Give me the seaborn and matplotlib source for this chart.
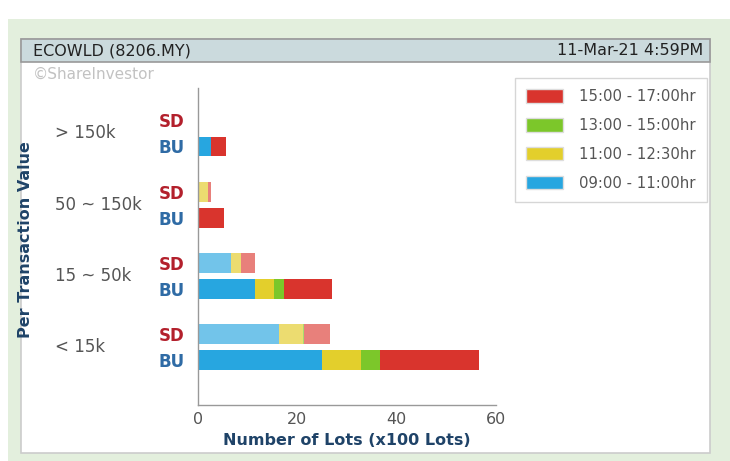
import numpy as np
import pandas as pd
import matplotlib
matplotlib.use("Agg")
import matplotlib.pyplot as plt
from matplotlib.patches import Rectangle, Patch
import seaborn as sns

# value bands, top to bottom
groups = ["> 150k", "50 ~ 150k", "15 ~ 50k", "< 15k"]
periods = ["09:00 - 11:00hr", "11:00 - 12:30hr", "13:00 - 15:00hr", "15:00 - 17:00hr"]

# lots (x100) bought up / sold down per time band
bu_0900 = [2.6, 0.0, 11.5, 25.0]
bu_1100 = [0.0, 0.0, 3.9, 7.8]
bu_1300 = [0.0, 0.0, 1.9, 3.8]
bu_1500 = [3.1, 5.3, 9.6, 19.9]
sd_0900 = [0.0, 0.0, 6.6, 16.3]
sd_1100 = [0.0, 2.0, 2.0, 4.8]
sd_1300 = [0.0, 0.0, 0.0, 0.3]
sd_1500 = [0.0, 0.6, 2.9, 5.2]

xticks = [0, 20, 40, 60]

dark = ["#27a6e0", "#e3cf2c", "#7cc72a", "#d9342d"]
light = ["#72c4ea", "#ecdc70", "#a8dc70", "#e8807b"]

sns.set_theme(style="white")
plt.rcParams["font.family"] = ["DejaVu Sans"]

rows = []
for i, g in enumerate(groups):
    for side, vals, off in [("SD", [sd_0900, sd_1100, sd_1300, sd_1500], -0.183),
                            ("BU", [bu_0900, bu_1100, bu_1300, bu_1500], 0.183)]:
        cum = np.cumsum([v[i] for v in vals])
        rows.append({"group": g, "side": side, "pos": i + off,
                     "c0": cum[0], "c1": cum[1], "c2": cum[2], "c3": cum[3]})
df = pd.DataFrame(rows)

W, H = 730, 461
fig = plt.figure(figsize=(W / 100, H / 100), dpi=100, facecolor="white")

# page background, panel and header strip
fig.patches.append(Rectangle((8 / W, 0), 1 - 8 / W, 1 - 19 / H, transform=fig.transFigure,
                             facecolor="#e3efdd", edgecolor="none", zorder=-3))
fig.patches.append(Rectangle((21 / W, 1 - 453 / H), 689 / W, 414 / H, transform=fig.transFigure,
                             facecolor="white", edgecolor="#cccccc", lw=1.2, zorder=-2))
fig.patches.append(Rectangle((21 / W, 1 - 62 / H), 689 / W, 23 / H, transform=fig.transFigure,
                             facecolor="#cbdadd", edgecolor="#999999", lw=1.2, zorder=-1))
fig.text(33 / W, 1 - 50.5 / H, "ECOWLD (8206.MY)", fontsize=11.5, color="#222222", va="center")
fig.text(703 / W, 1 - 50.5 / H, "11-Mar-21 4:59PM", fontsize=11.5, color="#222222",
         va="center", ha="right")
fig.text(33 / W, 1 - 74 / H, "\u00a9ShareInvestor", fontsize=11, color="#c2c2c2", va="center")

ax = fig.add_axes([198 / W, 56 / H, 298 / W, 317 / H])
ax.set_facecolor("none")
ax.set_zorder(2)

# stacked bars: draw the running totals from the longest down
for k in [3, 2, 1, 0]:
    sns.barplot(data=df, x=f"c{k}", y="pos", hue="side", orient="y", native_scale=True,
                palette={"SD": light[k], "BU": dark[k]}, dodge=False, width=0.765,
                errorbar=None, saturation=1, legend=False, linewidth=0, ax=ax)

ax.set_xlim(0, 60)
ax.set_ylim(3.82, -0.64)
ax.set_xticks(xticks)
ax.set_xticklabels([str(t) for t in xticks], fontsize=11.5, color="#555555")
ax.tick_params(axis="x", direction="in", length=5, width=0.8, color="#999999", pad=5)

ax.set_yticks(df["pos"])
ax.set_yticklabels(df["side"], fontsize=12, fontweight="bold")
for lab in ax.get_yticklabels():
    lab.set_color("#b3202c" if lab.get_text() == "SD" else "#2f6ba5")
ax.tick_params(axis="y", length=0, pad=9.5)

for i, g in enumerate(groups):
    ax.text(-0.48, i, g, transform=ax.get_yaxis_transform(), fontsize=12,
            color="#555555", ha="left", va="center")

for s in ["top", "right"]:
    ax.spines[s].set_visible(False)
for s in ["left", "bottom"]:
    ax.spines[s].set_color("#999999")
    ax.spines[s].set_linewidth(1.0)

ax.set_xlabel("Number of Lots (x100 Lots)", fontsize=11.5, fontweight="bold", color="#1f4368")
ax.xaxis.set_label_coords(0.5, -0.088)
ax.set_ylabel("Per Transaction Value", fontsize=11.5, fontweight="bold", color="#1f4368")
ax.yaxis.set_label_coords((33 - 198) / 298, (405 - 240) / 317)

handles = [Patch(facecolor=dark[k], edgecolor="#dddddd", label=periods[k]) for k in [3, 2, 1, 0]]
leg = fig.legend(handles=handles, loc="upper right", bbox_to_anchor=(707 / W, 1 - 78 / H),
                 fontsize=10.7, frameon=True, fancybox=False, edgecolor="#cccccc",
                 handlelength=2.48, handleheight=1.0, handletextpad=1.07,
                 labelspacing=0.93, borderpad=0.75, borderaxespad=0)
leg.get_frame().set_linewidth(1.0)
leg.set_zorder(3)
for t in leg.get_texts():
    t.set_color("#555555")

fig.savefig("out.png", dpi=100, facecolor="white")
